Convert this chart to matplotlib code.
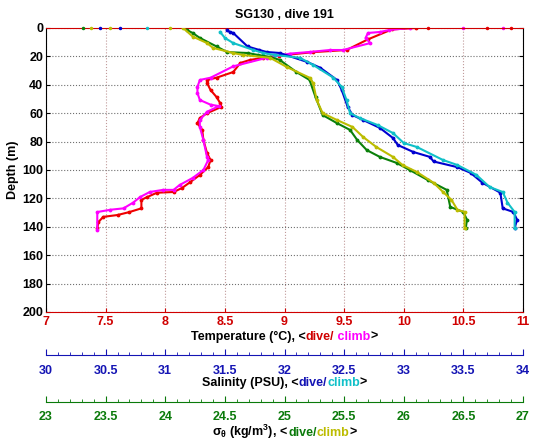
import numpy as np
import matplotlib
matplotlib.use("Agg")
import matplotlib.pyplot as plt
from matplotlib.offsetbox import TextArea, HPacker, AnchoredOffsetbox
from matplotlib.ticker import MultipleLocator

plt.rcParams['font.family'] = ['Liberation Sans', 'DejaVu Sans']
plt.rcParams['font.weight'] = 'bold'
plt.rcParams['mathtext.default'] = 'regular'

# temperature (deg C) vs depth (m)
temp_dive_z = [0, 1, 8, 15.5, 17, 19.5, 21, 22.5, 24.6, 31, 35, 36.6, 38.7, 43.7, 48.6,
               52.8, 55.6, 60, 63.4, 67, 71.8, 78.9, 88, 93, 98, 103.5, 108.5, 112.7,
               115.5, 116, 119, 121, 127, 129.6, 131.7, 133, 136.6, 141]
temp_dive = [10.1, 9.9, 9.7, 9.52, 9.24, 8.95, 8.82, 8.71, 8.63, 8.57, 8.43, 8.35, 8.35,
             8.38, 8.43, 8.46, 8.47, 8.35, 8.29, 8.27, 8.31, 8.32, 8.35, 8.38, 8.36, 8.29,
             8.21, 8.14, 8.07, 7.93, 7.85, 7.8, 7.8, 7.7, 7.6, 7.48, 7.44, 7.43]
temp_climb_z = [0, 1.4, 2.8, 3.5, 7, 10.6, 15.5, 15.5, 16.9, 18, 21, 27, 35, 36.6, 41.5,
                45.8, 50.7, 54, 55, 59, 64.8, 69.7, 78.9, 90.8, 93, 100, 105.6, 110.6,
                114, 114, 115.5, 119, 123, 127, 128, 129.6, 142]
temp_climb = [10.05, 9.88, 9.8, 9.7, 9.68, 9.72, 9.49, 9.38, 9.21, 9.05, 8.85, 8.57, 8.38,
              8.29, 8.27, 8.27, 8.29, 8.38, 8.45, 8.35, 8.29, 8.29, 8.32, 8.35, 8.36, 8.32,
              8.23, 8.12, 8.07, 7.98, 7.87, 7.79, 7.73, 7.65, 7.54, 7.43, 7.43]

# salinity (PSU)
sal_dive_z = [1.4, 2.8, 3.5, 13, 15.5, 16.9, 17.6, 23.9, 28, 36.6, 43.7, 55.6, 61.3, 64.8,
              70.4, 77.5, 82.4, 87.3, 90.8, 94, 98, 102, 109, 116, 127, 129.6, 135, 141]
sal_dive = [31.52, 31.54, 31.57, 31.69, 31.79, 31.85, 31.96, 32.19, 32.3, 32.44, 32.48,
            32.53, 32.57, 32.66, 32.8, 32.91, 32.95, 33.08, 33.22, 33.25, 33.45, 33.56,
            33.66, 33.81, 33.83, 33.92, 33.95, 33.93]
sal_climb_z = [2.8, 7, 10.6, 15.5, 17.6, 19, 21, 26, 35, 41.5, 50.7, 60, 63.4, 68.3, 74,
               81, 83.8, 93, 96.5, 103.5, 112, 115.5, 123, 129.6, 141]
sal_climb = [31.46, 31.5, 31.57, 31.74, 31.82, 31.92, 32.13, 32.24, 32.41, 32.48, 32.52,
             32.55, 32.63, 32.78, 32.91, 33.0, 33.11, 33.33, 33.45, 33.61, 33.72, 33.83,
             33.87, 33.93, 33.93]

# sigma theta (kg/m3)
sig_dive_z = [1.4, 3.5, 7, 13, 17, 17.6, 19, 20.4, 22.5, 31, 36.6, 48.6, 61.3, 67, 71.8,
              78.9, 86, 90.8, 95, 100, 107, 114, 126, 129.6, 135, 141]
sig_dive = [24.18, 24.23, 24.29, 24.43, 24.52, 24.69, 24.78, 24.88, 24.96, 25.1, 25.21,
            25.26, 25.32, 25.44, 25.55, 25.61, 25.69, 25.8, 25.94, 26.05, 26.2, 26.36,
            26.39, 26.5, 26.53, 26.52]
sig_climb_z = [0, 6, 10.6, 14, 17.6, 19, 21, 27.5, 35, 38.7, 50.7, 60, 64.8, 69.7, 76.8,
               83.8, 90.8, 96.5, 101.4, 109, 115.5, 121, 128, 129.6, 141]
sig_climb = [24.15, 24.23, 24.35, 24.4, 24.57, 24.65, 24.88, 25.02, 25.21, 25.24, 25.27,
             25.32, 25.44, 25.57, 25.66, 25.77, 25.91, 25.99, 26.11, 26.25, 26.33, 26.4,
             26.45, 26.51, 26.51]

# stray surface samples (depth 0)
surf_temp_dive = [10.2, 10.7, 10.9]
surf_temp_climb = [10.5, 10.83]
surf_sal_dive = [30.45, 30.62]
surf_sal_climb = [30.85]
surf_sig_dive = [23.31]
surf_sig_climb = [23.38, 23.54, 24.04]

RED, MAG = '#ee0000', '#ff00ff'
BLUE, CYAN = '#0000d0', '#10c0c8'
GREEN, YEL = '#0a800a', '#bcbc00'
RED_T, BLUE_T, GREEN_T = '#d00000', '#1414b4', '#0a7a0a'

fig = plt.figure(figsize=(5.35, 4.42), dpi=100)
ax = fig.add_axes([46/535, 1-312/442, 477/535, 284/442])

ax.set_xlim(7, 11)
ax.set_ylim(200, 0)
ax.set_xticks(np.arange(7, 11.01, 0.5))
ax.set_xticklabels(['7', '7.5', '8', '8.5', '9', '9.5', '10', '10.5', '11'])
ax.set_yticks(np.arange(0, 201, 20))
ax.tick_params(axis='x', colors=RED_T, direction='in', length=3, top=True,
               labelsize=9, pad=3)
ax.tick_params(axis='y', direction='in', length=3, right=True, labelsize=9, pad=2)
ax.spines['bottom'].set_color(RED_T)
ax.spines['top'].set_color(RED_T)
for s in ax.spines.values():
    s.set_linewidth(0.8)
ax.xaxis.grid(True, linestyle=':', color='#c09a9a', linewidth=0.8)
ax.yaxis.grid(True, linestyle=':', color='#707070', linewidth=0.8)
ax.set_axisbelow(True)
ax.set_ylabel('Depth (m)', fontsize=9, fontweight='bold', labelpad=2)
ax.set_title('SG130 , dive 191', fontsize=9, fontweight='bold', pad=7)

ax.plot(temp_dive, temp_dive_z, '-', color=RED, lw=1.5, marker='.', ms=3.5)
ax.plot(temp_climb, temp_climb_z, '-', color=MAG, lw=1.5, marker='.', ms=3.5)
ax.plot(surf_temp_dive, np.zeros(len(surf_temp_dive)), '.', color=RED, ms=3, clip_on=False)
ax.plot(surf_temp_climb, np.zeros(len(surf_temp_climb)), '.', color=MAG, ms=3, clip_on=False)


def extra_axis(lims, ticks, color, offset, pad):
    a = ax.twiny()
    a.set_xlim(*lims)
    a.xaxis.set_ticks_position('bottom')
    a.spines['bottom'].set_position(('axes', offset))
    for k in ['top', 'left', 'right']:
        a.spines[k].set_visible(False)
    a.spines['bottom'].set_color(color)
    a.spines['bottom'].set_linewidth(0.8)
    a.set_xticks(ticks)
    a.set_xticklabels(['%g' % t for t in ticks])
    a.xaxis.set_minor_locator(MultipleLocator(0.1))
    a.tick_params(axis='x', which='major', colors=color, direction='in', length=4,
                  labelsize=9, pad=pad)
    a.tick_params(axis='x', which='minor', colors=color, direction='in', length=2)
    return a


ax_s = extra_axis((30, 34), np.arange(30, 34.01, 0.5), BLUE_T, -43/284, 7.5)
ax_s.plot(sal_dive, sal_dive_z, '-', color=BLUE, lw=1.5, marker='.', ms=3.5)
ax_s.plot(sal_climb, sal_climb_z, '-', color=CYAN, lw=1.5, marker='.', ms=3.5)
ax_s.plot(surf_sal_dive, np.zeros(len(surf_sal_dive)), '.', color=BLUE, ms=3, clip_on=False)
ax_s.plot(surf_sal_climb, np.zeros(len(surf_sal_climb)), '.', color=CYAN, ms=3, clip_on=False)

ax_g = extra_axis((23, 27), np.arange(23, 27.01, 0.5), GREEN_T, -89.5/284, 6.5)
ax_g.plot(sig_dive, sig_dive_z, '-', color=GREEN, lw=1.5, marker='.', ms=3.5)
ax_g.plot(sig_climb, sig_climb_z, '-', color=YEL, lw=1.5, marker='.', ms=3.5)
ax_g.plot(surf_sig_dive, np.zeros(len(surf_sig_dive)), '.', color=GREEN, ms=3, clip_on=False)
ax_g.plot(surf_sig_climb, np.zeros(len(surf_sig_climb)), '.', color=YEL, ms=3, clip_on=False)


def color_label(parts, y):
    boxes = [TextArea(t, textprops=dict(color=c, fontsize=9, fontweight='bold'))
             for t, c in parts]
    pack = HPacker(children=boxes, align='baseline', pad=0, sep=0)
    box = AnchoredOffsetbox(loc='center', child=pack, frameon=False, pad=0, borderpad=0,
                            bbox_to_anchor=(284.5/535, y), bbox_transform=fig.transFigure)
    fig.add_artist(box)


color_label([('Temperature (°C), <', 'k'), ('dive/', RED_T), (' climb', MAG), ('>', 'k')],
            1-337/442)
color_label([('Salinity (PSU), <', 'k'), ('dive/', BLUE_T), ('climb', CYAN), ('>', 'k')],
            1-383/442)
color_label([(r'$\sigma_\theta$ (kg/m$^3$), <', 'k'), ('dive/', GREEN_T), ('climb', YEL),
             ('>', 'k')], 1-432/442)

fig.savefig('out.png', dpi=100)
